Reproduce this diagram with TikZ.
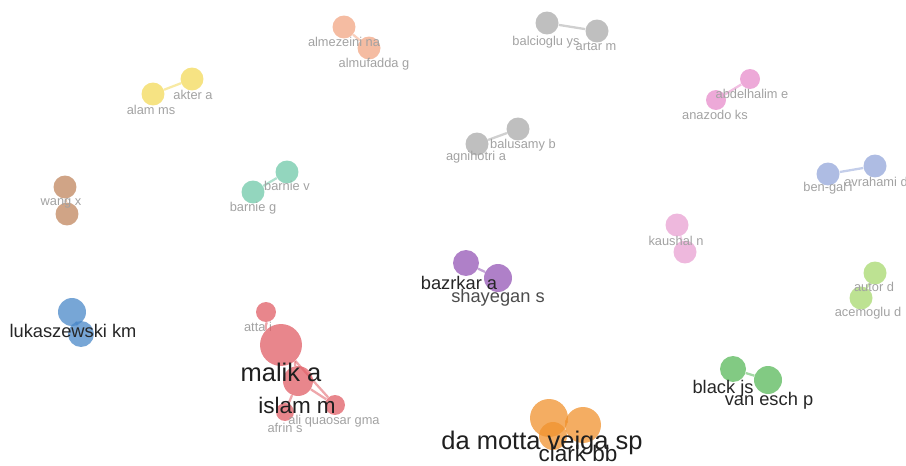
\documentclass[tikz,border=0pt]{standalone}
\usepackage{fontspec}
\setmainfont{Liberation Sans}
\usetikzlibrary{positioning,backgrounds}

\definecolor{cSalmon}{HTML}{F2A583}
\definecolor{cGray}{HTML}{A9A9A9}
\definecolor{cYellow}{HTML}{F3D95A}
\definecolor{cPink}{HTML}{E78CCB}
\definecolor{cSteel}{HTML}{93A6D9}
\definecolor{cBrown}{HTML}{C0865E}
\definecolor{cTeal}{HTML}{6FC8A8}
\definecolor{cRose}{HTML}{E8A0D2}
\definecolor{cLime}{HTML}{A7D86E}
\definecolor{cPurple}{HTML}{9456B5}
\definecolor{cBlue}{HTML}{4A88C8}
\definecolor{cRed}{HTML}{E05E66}
\definecolor{cOrange}{HTML}{F0922E}
\definecolor{cGreen}{HTML}{58B85A}
\definecolor{txtGray}{HTML}{A2A2A2}

\begin{document}
\begin{tikzpicture}[
  x=0.02cm, y=-0.02cm,
  bub/.style={circle, draw=none, inner sep=0pt, fill opacity=0.75,
              minimum size=#1*0.04cm},
  bub/.default=11.5,
  link/.style={line width=1.3pt, draw opacity=0.55},
  lab/.style={inner sep=0pt, text=txtGray, font=\fontsize{7.3}{8}\selectfont},
  labm/.style={inner sep=0pt, text=black!80, font=\fontsize{10.4}{12}\selectfont},
  labb/.style={inner sep=0pt, text=black!88, font=\fontsize{14.5}{16}\selectfont}
]
\useasboundingbox (0,0) rectangle (906,466);

% salmon pair
\node[bub, fill=cSalmon] (alm) at (344,27) {};
\node[bub, fill=cSalmon] (almu) at (369,48) {};
\node[lab] (alm-l) at (344,42) {almezeini na};
\node[lab] (almu-l) at (374,64) {almufadda g};

% gray pair (top)
\node[bub, fill=cGray] (bal) at (547,23) {};
\node[bub, fill=cGray] (art) at (597,31) {};
\node[lab] (bal-l) at (546,42) {balcioglu ys};
\node[lab] (art-l) at (596,46) {artar m};

% yellow pair
\node[bub, fill=cYellow] (akt) at (192,79) {};
\node[bub, fill=cYellow] (ala) at (153,94) {};
\node[lab] (akt-l) at (193,95) {akter a};
\node[lab] (ala-l) at (151,110) {alam ms};

% pink pair
\node[bub=10, fill=cPink] (abd) at (750,79) {};
\node[bub=10, fill=cPink] (ana) at (716,100) {};
\node[lab] (abd-l) at (752,94) {abdelhalim e};
\node[lab] (ana-l) at (715,115) {anazodo ks};

% gray pair (middle)
\node[bub, fill=cGray] (balu) at (518,129) {};
\node[bub, fill=cGray] (agn) at (477,144) {};
\node[lab] (balu-l) at (523,145) {balusamy b};
\node[lab] (agn-l) at (476,157) {agnihotri a};

% steel pair
\node[bub, fill=cSteel] (avr) at (875,166) {};
\node[bub, fill=cSteel] (ben) at (828,174) {};
\node[lab] (avr-l) at (876,182) {avrahami d};
\node[lab] (ben-l) at (828,188) {ben-gal i};

% brown pair
\node[bub, fill=cBrown] (wan) at (65,187) {};
\node[bub, fill=cBrown] (wan2) at (67,214) {};
\node[lab] (wan-l) at (61,203) {wang x};

% teal pair
\node[bub, fill=cTeal] (barv) at (287,172) {};
\node[bub, fill=cTeal] (barg) at (253,192) {};
\node[lab] (barv-l) at (287,186) {barnie v};
\node[lab] (barg-l) at (253,208) {barnie g};

% rose pair
\node[bub, fill=cRose] (kau) at (677,225) {};
\node[bub, fill=cRose] (kau2) at (685,252) {};
\node[lab] (kau-l) at (676,241) {kaushal n};

% lime pair
\node[bub, fill=cLime] (aut) at (875,273) {};
\node[bub, fill=cLime] (ace) at (861,298) {};
\node[lab] (aut-l) at (874,287) {autor d};
\node[lab] (ace-l) at (868,313) {acemoglu d};

% purple pair
\node[bub=13, fill=cPurple] (baz) at (466,263) {};
\node[bub=14, fill=cPurple] (sha) at (498,278) {};
\node[labm, text=black!85] (baz-l) at (459,283) {bazrkar a};
\node[labm, text=black!70] (sha-l) at (498,298) {shayegan s};

% blue pair
\node[bub=14, fill=cBlue] (luk) at (72,312) {};
\node[bub=13, fill=cBlue] (luk2) at (81,334) {};
\node[labm, text=black!85] (luk-l) at (73,331) {lukaszewski km};

% red cluster
\node[lab] (att-l) at (258,327) {atta i};
\node[bub=10, fill=cRed] (att) at (266,312) {};
\node[bub=21, fill=cRed] (mal) at (281,345) {};
\node[bub=15, fill=cRed] (isl) at (298,381) {};
\node[bub=10, fill=cRed] (ali) at (335,405) {};
\node[bub=9, fill=cRed] (afr) at (285,412) {};
\node[labb] (mal-l) at (281,372) {malik a};
\node[labb, font=\fontsize{12.8}{14}\selectfont] (isl-l) at (297,405) {islam m};
\node[lab] (ali-l) at (334,421) {ali quaosar gma};
\node[lab] (afr-l) at (285,428) {afrin s};

% orange cluster
\node[bub=19, fill=cOrange] (dam) at (549,418) {};
\node[bub=18, fill=cOrange] (cla) at (583,425) {};
\node[bub=14, fill=cOrange] (dam2) at (553,436) {};
\node[labb] (dam-l) at (542,443) {da motta veiga sp};
\node[labb, font=\fontsize{12.8}{14}\selectfont] (cla-l) at (578,453) {clark bb};

% green pair
\node[bub=13, fill=cGreen] (bla) at (733,369) {};
\node[bub=14, fill=cGreen] (van) at (768,380) {};
\node[labm, text=black!85] (bla-l) at (723,389) {black js};
\node[labm, text=black!85] (van-l) at (769,401) {van esch p};

% links
\begin{scope}[on background layer]
\draw[link, cSalmon] (alm) -- (almu);
\draw[link, cGray] (bal) -- (art);
\draw[link, cYellow] (akt) -- (ala);
\draw[link, cPink] (abd) -- (ana);
\draw[link, cGray] (balu) -- (agn);
\draw[link, cSteel] (avr) -- (ben);
\draw[link, cBrown] (wan) -- (wan2);
\draw[link, cTeal] (barv) -- (barg);
\draw[link, cRose] (kau) -- (kau2);
\draw[link, cLime] (aut) -- (ace);
\draw[link, cPurple] (baz) -- (sha);
\draw[link, cBlue] (luk) -- (luk2);
\draw[link, cRed] (att) to[bend right=20] (mal);
\draw[link, cRed] (mal) to[bend left=15] (isl);
\draw[link, cRed] (isl) -- (ali);
\draw[link, cRed] (isl) -- (afr);
\draw[link, cRed] (mal) -- (ali);
\draw[link, cOrange] (dam) -- (cla);
\draw[link, cOrange] (dam2) -- (cla);
\draw[link, cGreen] (bla) -- (van);
\end{scope}
\end{tikzpicture}
\end{document}
